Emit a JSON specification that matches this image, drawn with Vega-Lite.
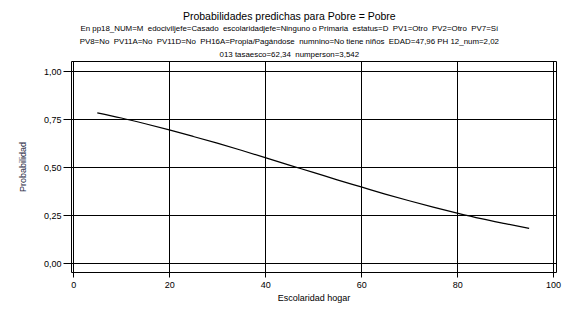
{
  "$schema": "https://vega.github.io/schema/vega-lite/v6.json",
  "width": 485,
  "height": 211,
  "autosize": {"type": "none"},
  "padding": {"left": 71, "top": 61, "right": 17, "bottom": 40},
  "background": "white",
  "title": {
    "text": "Probabilidades predichas para Pobre = Pobre",
    "subtitle": [
      "En pp18_NUM=M\u00a0 edociviljefe=Casado\u00a0 escolaridadjefe=Ninguno o Primaria\u00a0 estatus=D\u00a0 PV1=Otro\u00a0 PV2=Otro\u00a0 PV7=Sí",
      "PV8=No\u00a0 PV11A=No\u00a0 PV11D=No\u00a0 PH16A=Propia/Pagándose\u00a0 numnino=No tiene niños\u00a0 EDAD=47,96 PH 12_num=2,02",
      "013 tasaesco=62,34\u00a0 numperson=3,542"
    ],
    "anchor": "middle",
    "frame": "bounds",
    "font": "Liberation Sans",
    "fontSize": 10.5,
    "fontWeight": "normal",
    "color": "black",
    "subtitleFont": "Liberation Sans",
    "subtitleFontSize": 7.9,
    "subtitleColor": "black",
    "subtitleLineHeight": 13,
    "subtitlePadding": 3,
    "offset": 2
  },
  "data": {
    "values": [
      {"x": 5, "p": 0.784},
      {"x": 10, "p": 0.757},
      {"x": 15, "p": 0.727},
      {"x": 20, "p": 0.695},
      {"x": 25, "p": 0.661},
      {"x": 30, "p": 0.626},
      {"x": 35, "p": 0.589},
      {"x": 40, "p": 0.551},
      {"x": 45, "p": 0.512},
      {"x": 50, "p": 0.474},
      {"x": 55, "p": 0.435},
      {"x": 60, "p": 0.398},
      {"x": 65, "p": 0.361},
      {"x": 70, "p": 0.326},
      {"x": 75, "p": 0.293},
      {"x": 80, "p": 0.262},
      {"x": 85, "p": 0.233},
      {"x": 90, "p": 0.207},
      {"x": 95, "p": 0.182}
    ]
  },
  "mark": {"type": "line", "color": "black", "strokeWidth": 1.2, "interpolate": "monotone"},
  "encoding": {
    "x": {
      "field": "x",
      "type": "quantitative",
      "scale": {"domain": [-0.48, 100.6], "nice": false, "zero": false},
      "axis": {
        "values": [0, 20, 40, 60, 80, 100],
        "format": "d",
        "title": "Escolaridad hogar",
        "tickSize": 5,
        "labelPadding": 3,
        "titlePadding": 4
      }
    },
    "y": {
      "field": "p",
      "type": "quantitative",
      "scale": {"domain": [-0.045, 1.054], "nice": false, "zero": false},
      "axis": {
        "values": [0, 0.25, 0.5, 0.75, 1],
        "format": ".2f",
        "title": "Probabilidad",
        "tickSize": 8,
        "labelPadding": 2,
        "titleX": -49,
        "titleBaseline": "middle",
        "titleColor": "#1f2a44"
      }
    }
  },
  "config": {
    "locale": {
      "number": {"decimal": ",", "thousands": ".", "grouping": [3], "currency": ["", ""]}
    },
    "view": {"stroke": "black", "strokeWidth": 1},
    "axis": {
      "domain": false,
      "grid": true,
      "gridColor": "black",
      "gridOpacity": 1,
      "gridWidth": 1,
      "tickColor": "black",
      "tickWidth": 1,
      "labelFont": "Liberation Sans",
      "labelFontSize": 9,
      "labelColor": "black",
      "titleFont": "Liberation Sans",
      "titleFontSize": 9,
      "titleFontWeight": "normal",
      "titleColor": "black"
    }
  }
}
